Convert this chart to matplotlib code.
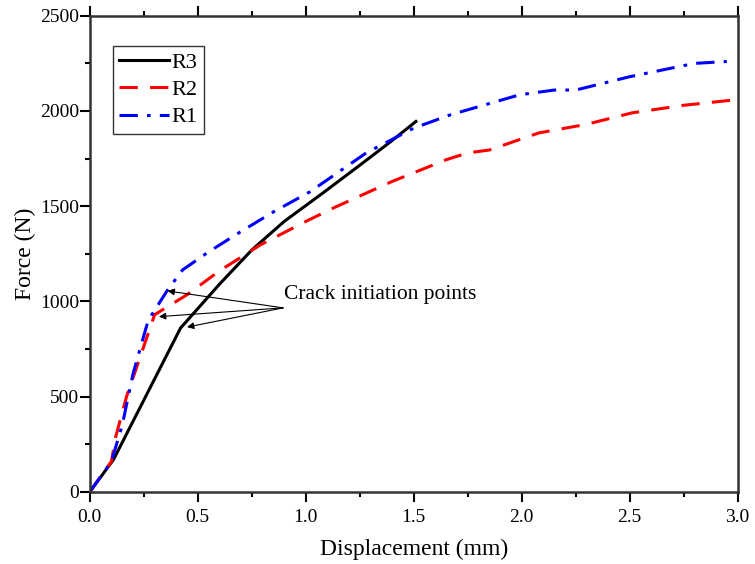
import matplotlib.pyplot as plt
import numpy as np

plt.rcParams['font.family'] = 'Liberation Serif'

# R3 - black solid
r3_x = [0.0, 0.11, 0.42, 0.6, 0.75, 0.9, 1.08, 1.25, 1.4, 1.51]
r3_y = [0, 170, 860, 1090, 1270, 1420, 1570, 1715, 1845, 1945]

# R2 - red dashed
r2_x = [0.0, 0.1, 0.12, 0.17, 0.3, 0.45, 0.6, 0.79, 1.0, 1.14, 1.4, 1.65, 1.75, 1.85, 2.08, 2.3, 2.51, 2.75, 3.0]
r2_y = [0, 160, 290, 500, 930, 1035, 1160, 1297, 1420, 1497, 1630, 1744, 1780, 1795, 1885, 1930, 1990, 2030, 2060]

# R1 - blue dash-dot
r1_x = [0.0, 0.1, 0.15, 0.2, 0.27, 0.36, 0.43, 0.55, 0.69, 0.85, 1.02, 1.28, 1.5, 1.67, 1.99, 2.15, 2.25, 2.5, 2.8, 2.95]
r1_y = [0, 160, 350, 620, 900, 1060, 1166, 1260, 1360, 1470, 1576, 1780, 1910, 1980, 2085, 2110, 2110, 2180, 2250, 2260]

# crack initiation points
crack_x = [0.36, 0.32, 0.45]
crack_y = [1055, 920, 865]

fig = plt.figure(figsize=(7.55, 5.64), dpi=100)
ax = fig.add_axes([0.119, 0.128, 0.858, 0.844])

ax.plot(r3_x, r3_y, color='black', lw=2.2, label='R3')
ax.plot(r2_x, r2_y, color='red', lw=2.2, dashes=(6, 4), label='R2')
ax.plot(r1_x, r1_y, color='blue', lw=2.2, dashes=(6, 3, 1.2, 3), label='R1')

ax.text(0.9, 1035, 'Crack initiation points', fontsize=15.5, va='center', ha='left')
for cx, cy in zip(crack_x, crack_y):
    ax.annotate('', xy=(cx, cy), xytext=(0.895, 966),
                arrowprops=dict(arrowstyle='-|>', color='black', lw=0.8,
                                mutation_scale=10, shrinkA=0, shrinkB=0))

ax.set_xlim(0, 3.0)
ax.set_ylim(0, 2500)
ax.set_xticks(np.arange(0, 3.01, 0.5))
ax.set_xticks(np.arange(0.25, 3.0, 0.5), minor=True)
ax.set_yticks(np.arange(0, 2501, 500))
ax.set_yticks(np.arange(250, 2500, 500), minor=True)
ax.set_xticklabels(['0.0', '0.5', '1.0', '1.5', '2.0', '2.5', '3.0'])
ax.tick_params(which='both', direction='out', top=True, right=False, labelsize=14, width=1.5)
ax.tick_params(which='major', length=7.2)
ax.tick_params(which='minor', length=3.6)
# bottom axis only shows the minor ticks
for t in ax.xaxis.get_major_ticks():
    t.tick1line.set_markersize(0)
ax.tick_params(axis='x', which='major', pad=5.5)
ax.tick_params(axis='y', which='major', pad=0.5)
for s in ax.spines.values():
    s.set_linewidth(1.8)
    s.set_color('#333333')

ax.set_xlabel('Displacement (mm)', fontsize=17, labelpad=9)
ax.set_ylabel('Force (N)', fontsize=17, labelpad=3)

leg = ax.legend(loc='upper left', bbox_to_anchor=(0.035, 0.937), fontsize=16,
                handlelength=2.25, fancybox=False, edgecolor='black',
                borderpad=0.3, labelspacing=0.3, handletextpad=0.1, borderaxespad=0)
leg.get_frame().set_linewidth(1.0)

fig.savefig('out.png', dpi=100)
